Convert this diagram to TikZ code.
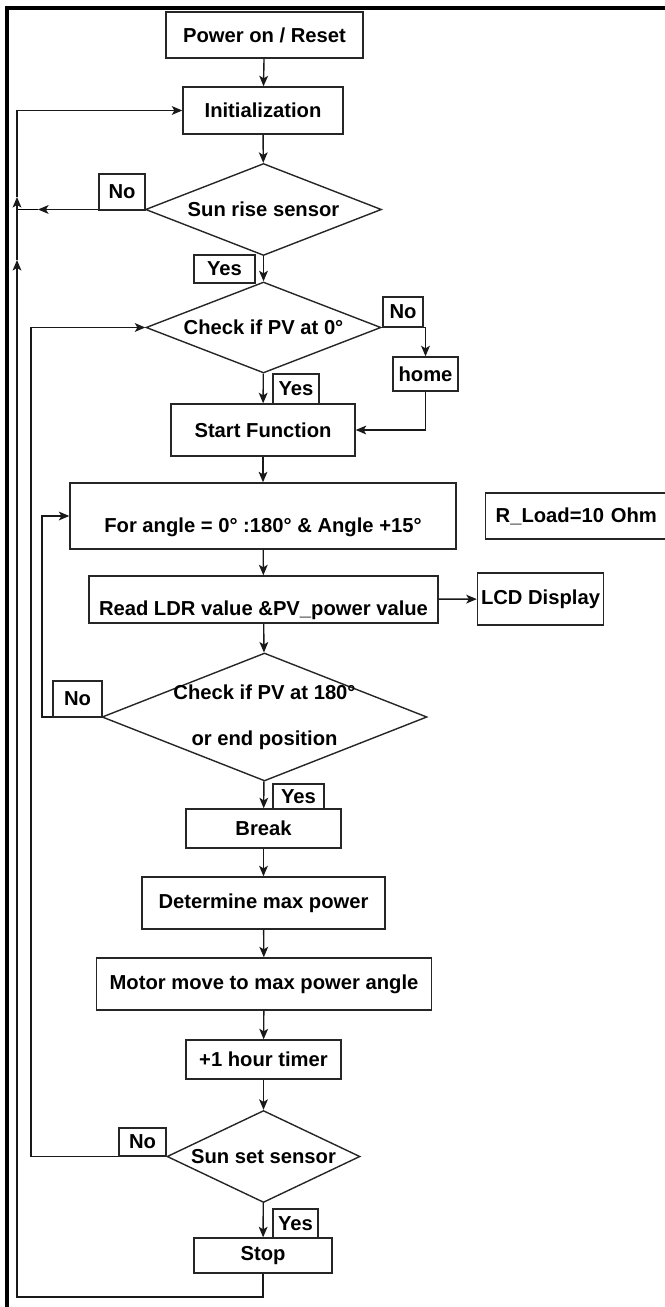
\documentclass[tikz,border=0pt]{standalone}
\usepackage{fontspec}
\setmainfont{Liberation Sans}
\usetikzlibrary{arrows.meta,shapes.geometric}

\tikzset{
  block/.style={draw=black!85, line width=0.8pt, fill=white, font=\bfseries\fontsize{11.5}{13}\selectfont, inner sep=2pt},
  decision/.style={diamond, draw=black!85, line width=0.8pt, inner sep=0pt, font=\bfseries\fontsize{11.5}{13}\selectfont},
  tag/.style={draw=black!85, line width=0.8pt, fill=white, font=\bfseries\fontsize{11.5}{13}\selectfont, inner sep=0pt},
  flow/.style={draw=black!90, line width=0.8pt, -{Stealth[length=6pt,width=5pt,inset=1.5pt]}},
  lowtext/.style={text height=21pt, text depth=2.5pt, inner ysep=0pt}
}

\begin{document}
\begin{tikzpicture}[x=0.02cm, y=-0.02cm]
\useasboundingbox (0,0) rectangle (665,1307);
% outer frame
\draw[line width=2pt] (7,1310) -- (7,8) -- (670,8);

% main column
\node[block, minimum width=3.94cm, minimum height=0.92cm] (power) at (264.5,35) {Power on / Reset};
\node[block, minimum width=3.2cm, minimum height=0.94cm] (init) at (263,110.5) {Initialization};
\node[decision, shape aspect=2.56, minimum width=4.72cm, minimum height=1.84cm] (sunrise) at (263.5,209.5) {Sun rise sensor};
\node[decision, shape aspect=2.58, minimum width=4.7cm, minimum height=1.82cm] (chk0) at (263.5,327.5) {Check if PV at 0°};
\node[block, minimum width=1.3cm, minimum height=0.68cm, inner sep=0pt] (home) at (425.5,374) {home};
\node[block, minimum width=3.68cm, minimum height=1.04cm] (start) at (263,430) {Start Function};
\node[block, lowtext, minimum width=7.72cm, minimum height=1.32cm] (forang) at (263,516) {For angle = 0° :180° \& Angle +15°};
\node[block, anchor=west, text width=5cm, inner xsep=0.2cm, minimum height=0.92cm, align=left] (rload) at (485,516) {R\_Load=10 Ohm};
\node[block, lowtext, minimum width=6.98cm, minimum height=0.94cm, inner xsep=0pt] (read) at (263.5,599.5) {Read LDR value \&PV\_power value};
\node[block, minimum width=2.22cm, minimum height=1.04cm] (lcd) at (540.5,599) {LCD Display};
\node[decision, minimum width=6.5cm, minimum height=2.56cm,
  label={[font=\bfseries\fontsize{11.5}{13}\selectfont, align=center]center:Check if PV at 180°\\[13pt]or end position}] (chk180) at (264.5,717) {};
\node[block, minimum width=3.1cm, minimum height=0.78cm] (brk) at (263.5,828.5) {Break};
\node[block, minimum width=4.86cm, minimum height=1.04cm] (maxp) at (263.5,903) {Determine max power};
\node[block, minimum width=6.7cm, minimum height=1.04cm] (motor) at (264,984) {Motor move to max power angle};
\node[block, minimum width=3.1cm, minimum height=0.78cm] (timer) at (263.5,1059.5) {+1 hour timer};
\node[decision, shape aspect=2.1, minimum width=3.86cm, minimum height=1.84cm] (sunset) at (263.5,1156.5) {Sun set sensor};
\node[block, minimum width=2.76cm, minimum height=0.7cm] (stop) at (263,1255.5) {Stop};

% free ends of the loop lines
\coordinate (riseTip) at (38,209.5);
\coordinate (riseEnd) at (17,209.5);
\coordinate (loopBot) at (17,1297);
\coordinate (loopMid) at (17,260);
\coordinate (loopTop) at (17,197);
\coordinate (setEnd) at (31,1156.5);
\coordinate (endEnd) at (42,717);

% straight flow
\draw[flow] (power) -- (init);
\draw[flow] (init) -- (sunrise);
\draw[flow] (sunrise) -- (chk0);
\draw[flow] (chk0) -- (start);
\draw[flow] (start) -- (forang);
\draw[flow] (forang) -- (read);
\draw[flow] (read) -- (lcd);
\draw[flow] (read) -- (chk180);
\draw[flow] (chk180) -- (brk);
\draw[flow] (brk) -- (maxp);
\draw[flow] (maxp) -- (motor);
\draw[flow] (motor) -- (timer);
\draw[flow] (timer) -- (sunset);
\draw[flow] (sunset) -- (stop);

% branches and loops
\draw[flow] (chk0.east) -| (home.north);
\draw[flow] (home.south) |- (start.east);
\draw[flow] (sunrise.west) -- (riseTip);
\draw[line width=0.8pt] (riseTip) -- (riseEnd);
\draw[flow] (chk180.west) -- (endEnd) |- (forang.west);
\draw[flow] (sunset.west) -- (setEnd) |- (chk0.west);
\draw[flow] (stop.south) |- (loopBot) -- (loopMid);
\draw[flow] (loopMid) -- (loopTop);
\draw[flow] (loopTop) |- (init.west);

% yes / no tags
\node[tag, minimum width=0.92cm, minimum height=0.72cm] (no1) at (122,192) {No};
\node[tag, minimum width=1.22cm, minimum height=0.56cm] (yes1) at (224.5,269) {Yes};
\node[tag, minimum width=0.8cm, minimum height=0.6cm] (no2) at (403,312) {No};
\node[tag, minimum width=0.92cm, minimum height=0.6cm] (yes2) at (296,389) {Yes};
\node[tag, minimum width=0.98cm, minimum height=0.72cm] (no3) at (77.5,699) {No};
\node[tag, minimum width=1.02cm, minimum height=0.5cm] (yes3) at (298.5,796.5) {Yes};
\node[tag, minimum width=0.94cm, minimum height=0.56cm] (no4) at (142.5,1142) {No};
\node[tag, minimum width=0.9cm, minimum height=0.58cm] (yes4) at (295.5,1223.5) {Yes};
\end{tikzpicture}
\end{document}
